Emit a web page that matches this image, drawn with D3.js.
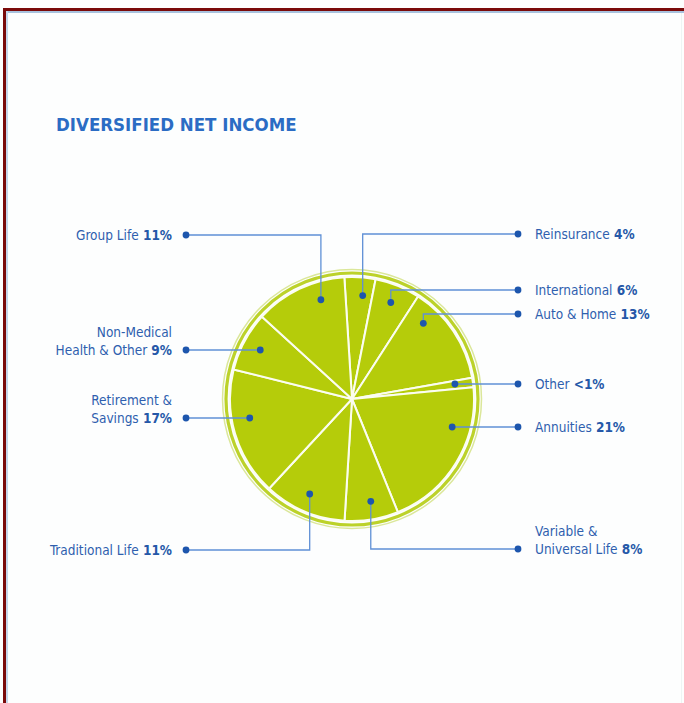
<!DOCTYPE html>
<html>
<head>
<meta charset="utf-8">
<script src="https://cdn.jsdelivr.net/npm/d3@7"></script>
<style>
  html, body { margin: 0; padding: 0; background: #fff; }
  svg { display: block; }
  .lbl { font-family: "Liberation Sans Narrow", "DejaVu Sans Condensed", "Roboto", sans-serif; font-size: 13.5px; fill: #2f5fae; }
  .lbl .pct { font-weight: bold; fill: #2558a8; }
  .title { font-family: "Liberation Sans Narrow", "DejaVu Sans Condensed", sans-serif; font-weight: bold; font-size: 18.5px; fill: #2b6cc4; }
</style>
</head>
<body>
<svg id="chart"></svg>
<script>
// podatki - delezi cistega dohodka, v smeri urinega kazalca od vrha
const segments = ["Reinsurance", "International", "Auto & Home", "Other", "Annuities",
  "Variable & Universal Life", "Traditional Life", "Retirement & Savings",
  "Non-Medical Health & Other", "Group Life"];
const shares = [4.1, 6.0, 13.1, 1.25, 20.4, 7.1, 10.9, 17.0, 7.9, 12.2];
const pctLabels = ["4%", "6%", "13%", "<1%", "21%", "8%", "11%", "17%", "9%", "11%"];
const labelLines = [["Reinsurance"], ["International"], ["Auto & Home"], ["Other"], ["Annuities"],
  ["Variable &", "Universal Life"], ["Traditional Life"], ["Retirement &", "Savings"],
  ["Non-Medical", "Health & Other"], ["Group Life"]];

// postavitev oznak (stran, vrstica, kot pike; null = vodoravna crta)
const callouts = [
  {side: "right", row: 234, angle: 5.9},
  {side: "right", row: 290, angle: 21.9},
  {side: "right", row: 314, angle: 43.3},
  {side: "right", row: 384, angle: null},
  {side: "right", row: 427, angle: null},
  {side: "right", row: 549, angle: 169.6},
  {side: "left", row: 550, angle: 204},
  {side: "left", row: 418, angle: null},
  {side: "left", row: 350, angle: null},
  {side: "left", row: 235, angle: 342.6}
];

const width = 684, height = 703;
const cx = 352, cy = 399;
const rSlice = 122, rDot = 104;
const leftDotX = 186, rightDotX = 518;
const leftTextX = 172, rightTextX = 535;
const rad = d => d * Math.PI / 180;

const svg = d3.select("#chart").attr("width", width).attr("height", height);

svg.append("rect").attr("width", width).attr("height", height).attr("fill", "#fdfefe");

// okvir
svg.append("rect").attr("x", 3).attr("y", 8).attr("width", width - 3).attr("height", 3).attr("fill", "#7a0a0a");
svg.append("rect").attr("x", 3).attr("y", 8).attr("width", 3).attr("height", height - 8).attr("fill", "#7a0a0a");
svg.append("rect").attr("x", 6).attr("y", 11).attr("width", width - 6).attr("height", 2).attr("fill", "#a8c2de");
svg.append("rect").attr("x", 6).attr("y", 11).attr("width", 2).attr("height", height - 11).attr("fill", "#c4d6ea");
svg.append("rect").attr("x", width - 3).attr("y", 13).attr("width", 1).attr("height", height - 13).attr("fill", "#eef4f4");

// naslov
svg.append("text").attr("class", "title").attr("x", 56).attr("y", 131).text("DIVERSIFIED NET INCOME");

// pita
const g = svg.append("g").attr("transform", `translate(${cx},${cy})`);

g.append("circle").attr("r", 129.5).attr("fill", "none").attr("stroke", "#dbe79a").attr("stroke-width", 1.5);
g.append("circle").attr("r", 126).attr("fill", "none").attr("stroke", "#bcd22a").attr("stroke-width", 3.2);

const pie = d3.pie().sort(null).value(d => d)
  .startAngle(rad(-3.6)).endAngle(rad(356.4));
const arc = d3.arc().innerRadius(0).outerRadius(rSlice);

g.selectAll("path.slice")
  .data(pie(shares))
  .join("path")
    .attr("class", "slice")
    .attr("d", arc)
    .attr("fill", "#b5cc0a")
    .attr("stroke", "#fbfdf0")
    .attr("stroke-width", 2)
    .attr("stroke-linejoin", "round");

// oznake
const ann = svg.append("g");
callouts.forEach((c, i) => {
  let dx, dy;
  if (c.angle === null) {
    dy = c.row;
    const off = c.row - cy;
    const h = Math.sqrt(rDot * rDot - off * off);
    dx = c.side === "right" ? cx + h : cx - h;
  } else {
    dx = cx + rDot * Math.sin(rad(c.angle));
    dy = cy - rDot * Math.cos(rad(c.angle));
  }
  const endX = c.side === "right" ? rightDotX : leftDotX;

  ann.append("path")
    .attr("d", `M${dx},${dy}L${dx},${c.row}L${endX},${c.row}`)
    .attr("fill", "none")
    .attr("stroke", "#5f90d6")
    .attr("stroke-width", 1.3);

  ann.append("circle").attr("cx", dx).attr("cy", dy).attr("r", 3.4).attr("fill", "#1d56ad");
  ann.append("circle").attr("cx", endX).attr("cy", c.row).attr("r", 3.4).attr("fill", "#1d56ad");

  const lines = labelLines[i];
  const tx = c.side === "right" ? rightTextX : leftTextX;
  const anchor = c.side === "right" ? "start" : "end";
  lines.forEach((ln, j) => {
    const t = ann.append("text")
      .attr("class", "lbl")
      .attr("x", tx)
      .attr("y", c.row + 5 - (lines.length - 1 - j) * 18.5)
      .attr("text-anchor", anchor);
    t.append("tspan").text(ln);
    if (j === lines.length - 1) {
      t.append("tspan").attr("class", "pct").text(" " + pctLabels[i]);
    }
  });
});
</script>
</body>
</html>
